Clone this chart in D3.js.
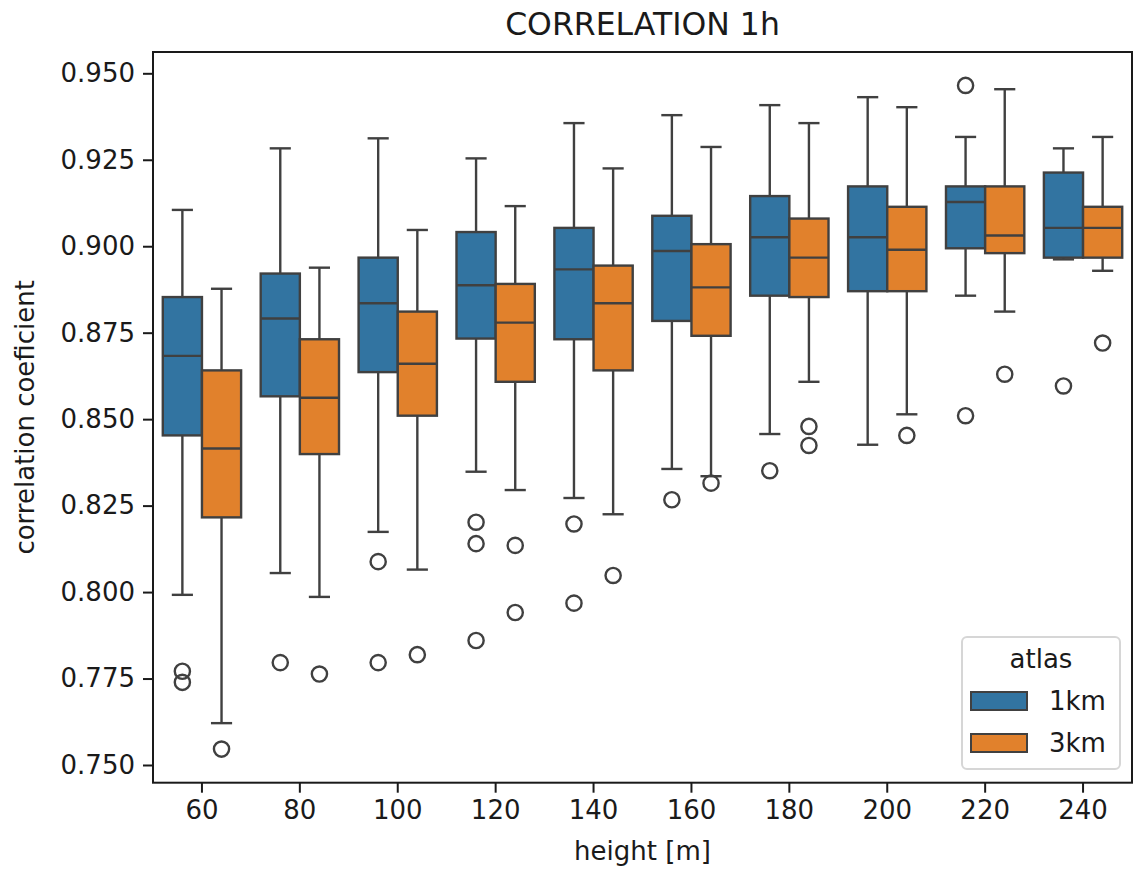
<!DOCTYPE html>
<html>
<head>
<meta charset="utf-8">
<script src="https://cdn.jsdelivr.net/npm/d3@7"></script>
<style>
  body { margin: 0; background: #fff; }
  text { font-family: "DejaVu Sans", sans-serif; fill: #1a1a1a; }
</style>
</head>
<body>
<div id="chart"></div>
<script>
var width = 1135, height = 874;
var margin = {top: 52, right: 3, bottom: 91.3, left: 153};

var heights = [60, 80, 100, 120, 140, 160, 180, 200, 220, 240];
var atlases = ["1km", "3km"];
var colors = ["#3274a1", "#e1812c"];
var yTicks = [0.750, 0.775, 0.800, 0.825, 0.850, 0.875, 0.900, 0.925, 0.950];

// box stats per height, 1km
var lo1  = [0.7992, 0.8055, 0.8174, 0.8348, 0.8272, 0.8356, 0.8457, 0.8426, 0.8857, 0.8962];
var q1_1 = [0.8453, 0.8566, 0.8636, 0.8733, 0.8731, 0.8784, 0.8857, 0.8870, 0.8994, 0.8967];
var med1 = [0.8683, 0.8791, 0.8835, 0.8887, 0.8933, 0.8986, 0.9026, 0.9026, 0.9128, 0.9053];
var q3_1 = [0.8853, 0.8921, 0.8967, 0.9041, 0.9053, 0.9088, 0.9145, 0.9173, 0.9173, 0.9213];
var hi1  = [0.9105, 0.9283, 0.9312, 0.9254, 0.9356, 0.9379, 0.9408, 0.9431, 0.9316, 0.9283];
var out1 = [[0.7771, 0.7739], [0.7796], [0.8088, 0.7796], [0.8202, 0.8140, 0.7860],
            [0.8197, 0.7968], [0.8267], [0.8351], [], [0.9465, 0.8510], [0.8596]];

// box stats per height, 3km
var lo3  = [0.7621, 0.7986, 0.8065, 0.8295, 0.8225, 0.8335, 0.8608, 0.8514, 0.8811, 0.8929];
var q1_3 = [0.8216, 0.8399, 0.8510, 0.8608, 0.8641, 0.8741, 0.8853, 0.8870, 0.8980, 0.8967];
var med3 = [0.8415, 0.8562, 0.8660, 0.8779, 0.8835, 0.8881, 0.8967, 0.8990, 0.9031, 0.9053];
var q3_3 = [0.8641, 0.8731, 0.8811, 0.8891, 0.8944, 0.9006, 0.9080, 0.9114, 0.9173, 0.9114];
var hi3  = [0.8877, 0.8938, 0.9047, 0.9116, 0.9225, 0.9287, 0.9356, 0.9402, 0.9454, 0.9316];
var out3 = [[0.7546], [0.7763], [0.7819], [0.8135, 0.7941], [0.8048], [0.8315],
            [0.8479, 0.8424], [0.8453], [0.8630], [0.8720]];

var stats = [
  {lo: lo1, q1: q1_1, med: med1, q3: q3_1, hi: hi1, out: out1},
  {lo: lo3, q1: q1_3, med: med3, q3: q3_3, hi: hi3, out: out3}
];

var innerW = width - margin.left - margin.right,
    innerH = height - margin.top - margin.bottom;

var svg = d3.select("#chart").append("svg")
    .attr("width", width)
    .attr("height", height);

var g = svg.append("g")
    .attr("transform", "translate(" + margin.left + "," + margin.top + ")");

var x = d3.scaleBand().domain(heights).range([0, innerW]).padding(0);
var xHue = d3.scaleBand().domain(atlases)
    .range([x.bandwidth() * 0.1, x.bandwidth() * 0.9]);
var y = d3.scaleLinear().domain([0.74488, 0.95616]).range([innerH, 0]);

var lineColor = "#404040", lw = 2.4;
var capW = xHue.bandwidth() * 0.54;

// boxes
atlases.forEach(function(a, s) {
  var st = stats[s];
  var grp = g.append("g").attr("class", "series-" + a);
  heights.forEach(function(h, i) {
    var x0 = x(h) + xHue(a), bw = xHue.bandwidth(), cx = x0 + bw / 2;
    // whiskers
    grp.append("line")
      .attr("x1", cx).attr("x2", cx)
      .attr("y1", y(st.q3[i])).attr("y2", y(st.hi[i]))
      .attr("stroke", lineColor).attr("stroke-width", lw);
    grp.append("line")
      .attr("x1", cx).attr("x2", cx)
      .attr("y1", y(st.q1[i])).attr("y2", y(st.lo[i]))
      .attr("stroke", lineColor).attr("stroke-width", lw);
    // caps
    [st.hi[i], st.lo[i]].forEach(function(v) {
      grp.append("line")
        .attr("x1", cx - capW / 2).attr("x2", cx + capW / 2)
        .attr("y1", y(v)).attr("y2", y(v))
        .attr("stroke", lineColor).attr("stroke-width", lw);
    });
    // box
    grp.append("rect")
      .attr("x", x0).attr("width", bw)
      .attr("y", y(st.q3[i])).attr("height", y(st.q1[i]) - y(st.q3[i]))
      .attr("fill", colors[s])
      .attr("stroke", lineColor).attr("stroke-width", lw);
    // median
    grp.append("line")
      .attr("x1", x0).attr("x2", x0 + bw)
      .attr("y1", y(st.med[i])).attr("y2", y(st.med[i]))
      .attr("stroke", lineColor).attr("stroke-width", lw);
    // fliers
    grp.selectAll(null)
      .data(st.out[i]).enter()
      .append("circle")
        .attr("cx", cx).attr("cy", function(d) { return y(d); })
        .attr("r", 7.6)
        .attr("fill", "none")
        .attr("stroke", lineColor).attr("stroke-width", lw);
  });
});

// frame
g.append("rect")
  .attr("x", 0).attr("y", 0).attr("width", innerW).attr("height", innerH)
  .attr("fill", "none").attr("stroke", "#1a1a1a").attr("stroke-width", 2);

// axes
var xAxis = g.append("g")
  .attr("transform", "translate(0," + innerH + ")")
  .call(d3.axisBottom(x).tickSize(10).tickPadding(8));
var yAxis = g.append("g")
  .call(d3.axisLeft(y).tickValues(yTicks).tickFormat(d3.format(".3f")).tickSize(10).tickPadding(8));

[xAxis, yAxis].forEach(function(ax) {
  ax.select(".domain").remove();
  ax.selectAll(".tick line").attr("stroke", "#1a1a1a").attr("stroke-width", 2);
  ax.selectAll(".tick text")
    .style("font-family", "DejaVu Sans, sans-serif")
    .style("font-size", "26px")
    .attr("fill", "#1a1a1a");
});

// titles
svg.append("text")
  .attr("x", margin.left + innerW / 2).attr("y", 35)
  .attr("text-anchor", "middle")
  .style("font-size", "31.5px")
  .text("CORRELATION 1h");

svg.append("text")
  .attr("x", margin.left + innerW / 2).attr("y", 860)
  .attr("text-anchor", "middle")
  .style("font-size", "26px")
  .text("height [m]");

svg.append("text")
  .attr("transform", "translate(34," + (margin.top + innerH / 2) + ") rotate(-90)")
  .attr("text-anchor", "middle")
  .style("font-size", "26px")
  .text("correlation coeficient");

// legend
var legend = svg.append("g").attr("transform", "translate(962,637)");
legend.append("rect")
  .attr("width", 158).attr("height", 132).attr("rx", 5)
  .attr("fill", "#fff").attr("fill-opacity", 0.8)
  .attr("stroke", "#d6d6d6").attr("stroke-width", 2);
legend.append("text")
  .attr("x", 79).attr("y", 31)
  .attr("text-anchor", "middle")
  .style("font-size", "26px")
  .text("atlas");
atlases.forEach(function(a, i) {
  var row = legend.append("g").attr("transform", "translate(0," + (55 + i * 42) + ")");
  row.append("rect")
    .attr("x", 9).attr("y", 0).attr("width", 56).attr("height", 18)
    .attr("fill", colors[i]).attr("stroke", lineColor).attr("stroke-width", 2);
  row.append("text")
    .attr("x", 87).attr("y", 18)
    .style("font-size", "26px")
    .text(a);
});
</script>
</body>
</html>
